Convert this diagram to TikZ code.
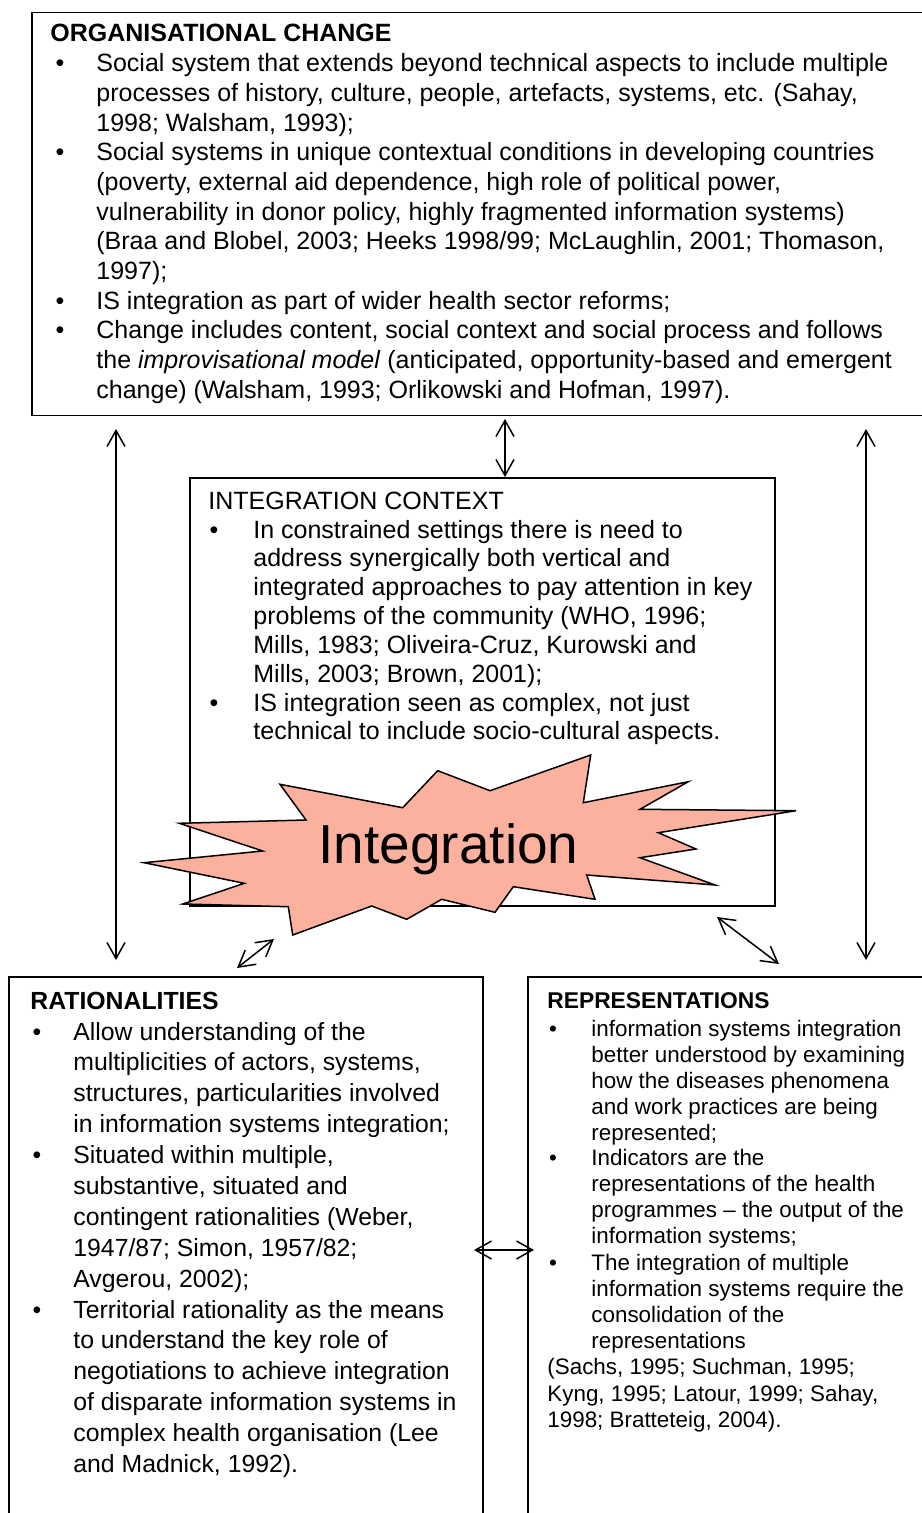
\documentclass[tikz,border=0pt]{standalone}
\usepackage{fontspec}
\setmainfont{Liberation Sans}
\usetikzlibrary{arrows.meta}
\definecolor{starfill}{RGB}{252,176,158}
\newcommand{\tlines}[1]{\parbox[t]{440pt}{\raggedright #1}}
\begin{document}
\begin{tikzpicture}[x=0.5pt,y=-0.5pt,
  box/.style={draw=black, line width=0.75pt, fill=none, inner sep=0pt, anchor=north west},
  txt/.style={anchor=base west, inner sep=0pt},
  bul/.style={anchor=base, inner sep=0pt},
  fa/.style={font=\fontsize{12.5}{14.85}\selectfont},
  fb/.style={font=\fontsize{12.5}{14.4}\selectfont},
  fc/.style={font=\fontsize{12.4}{15.45}\selectfont},
  fd/.style={font=\fontsize{11.2}{13.1}\selectfont},
  dbl/.style={{Straight Barb[length=8pt,width=9pt]}-{Straight Barb[length=8pt,width=9pt]}, line width=0.75pt},
  starstyle/.style={draw=black, line width=0.75pt, fill=starfill, line join=miter}
]
\useasboundingbox (0,0) rectangle (921,1513);
\fill[white] (0,0) rectangle (921,1513);

% ---------- boxes ----------
\node[box, minimum width=449pt, minimum height=201.5pt] (org) at (31,12) {};
\node[box, minimum width=292.5pt, minimum height=214pt] (ctx) at (189,477) {};
\node[box, minimum width=237pt, minimum height=275pt] (rat) at (8,976) {};
\node[box, minimum width=210pt, minimum height=275pt] (rep) at (527,976) {};

% ---------- top box text ----------
\node[txt, fa, font=\fontsize{12.5}{14.85}\selectfont\bfseries] (orgT) at (50,42) {ORGANISATIONAL CHANGE};
\node[bul, fa] (ob1) at (60,71.7) {•};
\node[txt, fa] (ot1) at (96,71.7) {\tlines{Social system that extends beyond technical aspects to include multiple\\
processes of history, culture, people, artefacts, systems, etc. (Sahay,\\
1998; Walsham, 1993);}};
\node[bul, fa] (ob2) at (60,160.8) {•};
\node[txt, fa] (ot2) at (96,160.8) {\tlines{Social systems in unique contextual conditions in developing countries\\
(poverty, external aid dependence, high role of political power,\\
vulnerability in donor policy, highly fragmented information systems)\\
(Braa and Blobel, 2003; Heeks 1998/99; McLaughlin, 2001; Thomason,\\
1997);}};
\node[bul, fa] (ob3) at (60,309.3) {•};
\node[txt, fa] (ot3) at (96,309.3) {IS integration as part of wider health sector reforms;};
\node[bul, fa] (ob4) at (60,339) {•};
\node[txt, fa] (ot4) at (96,339) {\tlines{Change includes content, social context and social process and follows\\
the \textit{improvisational model} (anticipated, opportunity-based and emergent\\
change) (Walsham, 1993; Orlikowski and Hofman, 1997).}};

% ---------- integration context ----------
\node[txt, fb] (ctxT) at (208,509.3) {INTEGRATION CONTEXT};
\node[bul, fb] (cb1) at (214,538.1) {•};
\node[txt, fb] (ct1) at (253,538.1) {\tlines{In constrained settings there is need to\\
address synergically both vertical and\\
integrated approaches to pay attention in key\\
problems of the community (WHO, 1996;\\
Mills, 1983; Oliveira-Cruz, Kurowski and\\
Mills, 2003; Brown, 2001);}};
\node[bul, fb] (cb2) at (214,711) {•};
\node[txt, fb] (ct2) at (253,711) {\tlines{IS integration seen as complex, not just\\
technical to include socio-cultural aspects.}};

% ---------- star ----------
\draw[starstyle] (437.7,770.7) -- (490,790.7) -- (590.7,755) -- (583.3,802.7) -- (688.3,781.7)
  -- (640,809.3) -- (796,810.7) -- (658.3,832.7) -- (696,849) -- (640,857.7) -- (715,885)
  -- (586.7,875) -- (595,899.3) -- (513.3,886.7) -- (495,912.3) -- (441.7,899.3)
  -- (406.7,919.3) -- (371.7,906) -- (292.7,935) -- (288.3,906.7) -- (182.7,904)
  -- (244.3,883.3) -- (144,862.7) -- (262.7,851) -- (179.3,823.3) -- (306,820)
  -- (280,784.3) -- (402.7,807.7) -- cycle;
\node[anchor=base, inner sep=0pt, font=\fontsize{27.5}{30}\selectfont] (integ) at (448.5,863.3) {Integration};

% ---------- rationalities ----------
\node[txt, fc, font=\fontsize{12.4}{15.45}\selectfont\bfseries] (ratT) at (30,1009) {RATIONALITIES};
\node[bul, fc] (rb1) at (37,1040) {•};
\node[txt, fc] (rt1) at (73,1040) {\tlines{Allow understanding of the\\
multiplicities of actors, systems,\\
structures, particularities involved\\
in information systems integration;}};
\node[bul, fc] (rb2) at (37,1163.5) {•};
\node[txt, fc] (rt2) at (73,1163.5) {\tlines{Situated within multiple,\\
substantive, situated and\\
contingent rationalities (Weber,\\
1947/87; Simon, 1957/82;\\
Avgerou, 2002);}};
\node[bul, fc] (rb3) at (37,1318) {•};
\node[txt, fc] (rt3) at (73,1318) {\tlines{Territorial rationality as the means\\
to understand the key role of\\
negotiations to achieve integration\\
of disparate information systems in\\
complex health organisation (Lee\\
and Madnick, 1992).}};

% ---------- representations ----------
\node[txt, fd, font=\fontsize{11.4}{13.1}\selectfont\bfseries] (repT) at (547,1008) {REPRESENTATIONS};
\node[bul, fd] (pb1) at (553,1036) {•};
\node[txt, fd] (pt1) at (591,1036) {\tlines{information systems integration\\
better understood by examining\\
how the diseases phenomena\\
and work practices are being\\
represented;}};
\node[bul, fd] (pb2) at (553,1165) {•};
\node[txt, fd] (pt2) at (591,1165) {\tlines{Indicators are the\\
representations of the health\\
programmes – the output of the\\
information systems;}};
\node[bul, fd] (pb3) at (553,1270) {•};
\node[txt, fd] (pt3) at (591,1270) {\tlines{The integration of multiple\\
information systems require the\\
consolidation of the\\
representations}};
\node[txt, fd] (pt4) at (547,1374.8) {\tlines{(Sachs, 1995; Suchman, 1995;\\
Kyng, 1995; Latour, 1999; Sahay,\\
1998; Bratteteig, 2004).}};

% ---------- connectors ----------
\coordinate (lA) at (116,429);
\coordinate (lB) at (116,960);
\coordinate (rA) at (866,429);
\coordinate (rB) at (866,960);
\coordinate (cA) at (505,419);
\coordinate (cB) at (505,477);
\coordinate (dlA) at (237,968);
\coordinate (dlB) at (274,939);
\coordinate (drA) at (717,917);
\coordinate (drB) at (779,964);
\coordinate (hA) at (474,1250);
\coordinate (hB) at (534,1250);
\draw[dbl] (lA) -- (lB);
\draw[dbl] (rA) -- (rB);
\draw[dbl] (cA) -- (cB);
\draw[dbl] (dlA) -- (dlB);
\draw[dbl] (drA) -- (drB);
\draw[dbl] (hA) -- (hB);
\end{tikzpicture}
\end{document}
